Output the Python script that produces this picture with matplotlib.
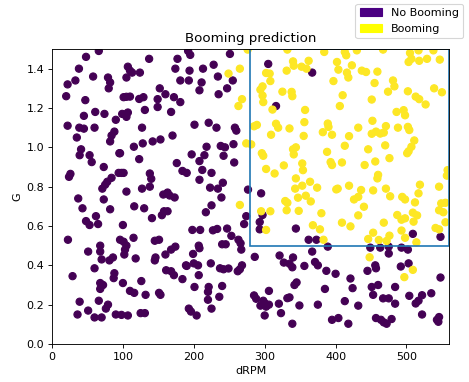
import matplotlib
matplotlib.use("Agg")
import matplotlib.pyplot as plt
import matplotlib.patches as mpatches
import numpy as np

# Samples classified as "No Booming" (dRPM, G)
no_boom = [
    (20,1.26),(22,1.32),(22,1.11),(33,1.34),(38,1.40),(48,1.46),(66,1.49),(58,1.36),(47,1.24),(45,1.16),
    (61,1.18),(74,1.17),(38.5,1.10),(45,1.095),(60,1.10),(35,1.05),(41,0.99),(39,0.96),(53,0.96),(56,0.925),
    (73,0.90),(26,0.865),(24,0.85),(79,1.355),(82,1.33),(80,1.30),(90,1.14),(88,1.08),(84,1.06),(82,1.03),
    (95,0.97),(71,0.79),(75,0.81),(78,0.825),(84,0.845),(73,0.735),(37,0.74),(43,0.69),(82,0.685),(62,0.65),
    (48,0.625),(53,0.605),(65,0.61),(22.5,0.53),(51,0.47),(68,0.50),(68,0.47),(70,0.43),(81,0.425),(86,0.44),
    (60,0.385),(88,0.36),(87,0.335),(29,0.345),(68,0.31),(72,0.30),(68,0.28),(66,0.22),(79,0.20),(76,0.18),
    (39,0.215),(51,0.17),(36,0.15),(60,0.135),(70,0.135),(90,0.15),(98,0.148),
    (107,1.41),(110,1.39),(113,1.38),(124,1.38),(105,1.355),(137,1.45),(101,1.255),(105,1.257),(110,1.258),
    (123,1.246),(129,1.255),(99,1.17),(103,1.167),(107,1.177),(105,1.155),(131,1.19),(127,1.10),(115.5,1.003),
    (128,1.02),(123,0.94),(96,0.97),(94,0.87),(98,0.87),(101,0.87),(138,0.867),(140,0.84),(127,0.79),(138,0.80),
    (105,0.775),(116,0.70),(130,0.69),(100,0.605),(141,0.64),(96,0.53),(101,0.52),(105,0.50),(103,0.48),
    (102,0.455),(115,0.54),(118,0.435),(100,0.31),(110,0.27),(116,0.26),(126,0.32),(132,0.25),(107,0.145),
    (125,0.157),(131,0.157),(152,1.30),(160,1.27),(149,1.245),(149,1.205),(172,1.255),(168,1.18),(181,1.23),
    (174,1.40),(177,1.45),(181,1.34),(193,1.34),(194,1.39),(192,1.49),(195,1.47),(142,1.03),(153,1.04),
    (170,1.06),(176,0.92),(184,0.88),(190,0.87),(157,0.76),(163,0.77),(166,0.755),(173,0.745),(158,0.675),
    (163,0.675),(155,0.655),(145,0.525),(151,0.53),(146,0.44),(145,0.425),(160,0.455),(168,0.48),(174,0.495),
    (161,0.375),(168,0.37),(172,0.35),(151,0.26),(153,0.25),(184,0.33),(189,0.40),(193,0.18),(196,0.165),
    (204,0.145),
    (201,1.115),(221,1.125),(232,1.10),(208,1.29),(211,1.33),(213,1.40),(228,1.42),(234,1.36),(235,1.27),
    (247,1.30),(255,1.34),(251,1.475),(218,1.003),(197,0.964),(215,0.96),(208,0.93),(212,0.885),(225,0.87),
    (208,0.835),(238,1.007),(244,1.00),(242,0.957),(256,1.016),(258,1.10),(260,1.085),(257,0.923),(241,0.82),
    (223,0.795),(234,0.79),(239,0.745),(217,0.67),(225,0.705),(198,0.58),(209,0.58),(227,0.578),(233,0.585),
    (247,0.587),(253,0.55),(263,0.53),(266,0.512),(267,0.48),(271,0.61),(274,0.65),(240,0.507),(245,0.507),
    (207,0.50),(208,0.487),(199,0.458),(200,0.41),(206,0.40),(190,0.397),(224,0.41),(237,0.385),(242,0.38),
    (249,0.384),(262,0.37),(268,0.40),(265,0.38),(207,0.35),(201,0.29),(221,0.29),(220,0.265),(240,0.295),
    (236,0.24),(220,0.225),(225,0.18),(276.5,0.785),
    (305,1.424),(367,1.38),(316,1.21),(295,0.766),(297,0.656),(293,0.62),(293,0.583),(344,0.587),(362,0.53),
    (373,0.53),(367,0.47),(389,0.495),(449,0.49),(463,0.49),(475,0.495),(493,0.49),(502,0.48),(509,0.56),
    (548,0.545),(475,0.46),(286,0.443),(321,0.45),(327,0.414),(335,0.408),(340,0.44),(339,0.39),(356,0.397),
    (371,0.417),(375,0.40),(387,0.372),(400,0.357),(421,0.333),(445,0.372),(456,0.40),(457,0.385),(503,0.41),
    (492,0.394),(451,0.29),(460,0.30),(484,0.29),(453,0.25),(548,0.338),(424,0.284),(385,0.28),(342,0.30),
    (345,0.313),(285,0.247),(288,0.23),(294,0.195),(300,0.208),(302,0.19),(298,0.22),(306,0.27),(306,0.20),
    (300,0.145),(320,0.205),(332,0.233),(335,0.237),(349,0.196),(323,0.157),(339,0.103),(375,0.20),(413,0.218),
    (432,0.195),(395,0.123),(404,0.132),(418,0.103),(457,0.132),(464,0.123),(468,0.11),(472,0.103),(479,0.127),
    (467,0.232),(475,0.232),(484,0.205),(504,0.245),(513,0.206),(517,0.22),(522,0.248),(522,0.15),(535,0.258),
    (543,0.123),(545,0.113),(546,0.137),
]

# Samples classified as "Booming" (dRPM, G)
boom = [
    (249,1.375),(265,1.40),(268,1.245),(263,1.21),(274,1.02),(281,1.015),(265,0.707),(276,1.497),
    (332,1.497),(384,1.485),(413,1.485),(430,1.493),(467,1.497),(505,1.48),(517,1.493),(538,1.493),(415,1.468),
    (503,1.434),(507,1.45),(518,1.44),(529,1.45),(547,1.446),
    (340,1.437),(341,1.415),(331,1.39),(352,1.41),(359,1.40),(362,1.44),
    (402,1.434),(404,1.395),(423,1.417),(416,1.38),(418,1.355),(437,1.39),(443,1.383),(459,1.385),(455,1.327),
    (397,1.337),(410,1.265),(406,1.21),
    (481,1.34),(483,1.31),(474,1.283),
    (502,1.285),(513,1.258),(518,1.245),(527,1.218),(539,1.30),(550,1.28),
    (302,1.378),(307,1.375),(308,1.337),(294,1.293),(297,1.31),(297,1.263),(298,1.23),
    (325,1.283),(338,1.282),(339,1.26),
    (311,1.192),(316,1.12),(319,1.10),(309,1.064),
    (285,1.107),(289,1.114),
    (335,1.096),(357,1.19),(356,1.128),(355,1.058),
    (389,1.121),(390,1.104),(382,1.077),
    (395,1.064),(413,1.008),(419,1.057),(432,1.10),
    (452,1.135),(457,1.08),(463,1.07),(471,1.108),(468,1.075),(470,1.01),(451,1.069),(451,1.243),
    (486,1.18),(496,1.189),(498,1.163),(488,1.10),(502,1.104),(504,1.088),(511,1.035),(507,1.003),(503,0.98),(501,0.97),
    (446,0.99),(456,0.928),(441,0.91),(476,0.945),(460,0.86),(459,0.842),
    (340,0.99),(344,1.00),(341,0.964),(353,0.918),(354,0.884),
    (296,0.97),(298,0.957),(302,0.89),(314,0.867),(327,0.908),
    (388,0.977),(393,0.925),(395,0.91),(409,0.923),
    (344,0.842),(343,0.79),(353,0.805),(364,0.825),(374,0.795),(358,0.754),(347,0.744),
    (365,0.725),(329,0.727),(332,0.718),(331,0.68),(348,0.677),(380,0.665),
    (308,0.675),(295,0.675),(302,0.58),
    (368,0.604),(378,0.583),(383,0.53),
    (401,0.786),(403,0.79),(419,0.805),(426,0.735),(432,0.748),(436,0.783),(440,0.698),(432,0.654),(409,0.617),(421,0.598),
    (453,0.781),(471,0.79),(477,0.751),(494,0.748),(498,0.735),(512,0.72),(517,0.766),(519,0.81),(546,0.80),(558,0.884),(557,0.856),
    (487,0.656),(468,0.617),(493,0.632),(498,0.639),(509,0.668),(515,0.654),(510,0.622),
    (549,0.715),(555,0.718),(546,0.68),(552,0.67),(555,0.619),
    (493,0.577),(498,0.54),(476,0.551),(472,0.524),(461,0.529),(453,0.566),(446,0.534),(514,0.517),(541,0.59),(546,0.583),
    (448,0.441),(497,0.34),(509,0.377),
]

labels = ["No Booming", "Booming"]
legend_colors = ["indigo", "yellow"]

# Decision region drawn on top of the scatter
region_x = (280, 560)
region_g = (0.5, 1.5)

drpm = np.array([p[0] for p in no_boom] + [p[0] for p in boom])
g = np.array([p[1] for p in no_boom] + [p[1] for p in boom])
cls = np.array([0] * len(no_boom) + [1] * len(boom))

fig = plt.figure(figsize=(469 / 80, 382 / 80), dpi=80)
ax = fig.add_axes([52 / 469, 38 / 382, 397 / 469, 295 / 382])

ax.scatter(drpm, g, c=cls, cmap="viridis", s=42)
ax.add_patch(mpatches.Rectangle((region_x[0], region_g[0]),
                                region_x[1] - region_x[0], region_g[1] - region_g[0],
                                fill=False, edgecolor="C0", linewidth=1.5))

ax.set_xlim(0, 560)
ax.set_ylim(0, 1.5)
ax.set_xlabel("dRPM")
ax.set_ylabel("G")
ax.set_title("Booming prediction")

handles = [mpatches.Patch(color=c, label=l) for c, l in zip(legend_colors, labels)]
fig.legend(handles=handles, loc="upper right", bbox_to_anchor=(1.0, 1.005))

fig.savefig("out.png", dpi=80)
